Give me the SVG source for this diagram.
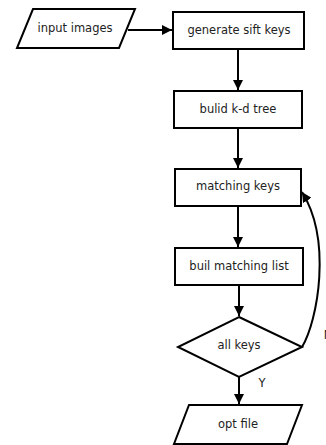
<svg xmlns="http://www.w3.org/2000/svg" width="326" height="445" viewBox="0 0 326 445">
<defs>
<style>
.s{fill:#fff;stroke:#000;stroke-width:2}
.t{font-family:"DejaVu Sans",sans-serif;font-size:11.5px;fill:#222;text-anchor:middle;dominant-baseline:central}
.c{fill:none;stroke:#000;stroke-width:2}
</style>
<marker id="a" viewBox="0 0 10 10" refX="10" refY="5" markerWidth="5" markerHeight="5" orient="auto" markerUnits="strokeWidth">
<path d="M0,0 L10,5 L0,10 z" fill="#000"/>
</marker>
</defs>
<rect width="326" height="445" fill="#fff"/>
<g id="connectors">
<line class="c" x1="128" y1="30" x2="172" y2="30" marker-end="url(#a)"/>
<line class="c" x1="238" y1="49" x2="238" y2="90" marker-end="url(#a)"/>
<line class="c" x1="238" y1="128" x2="238" y2="168" marker-end="url(#a)"/>
<line class="c" x1="238" y1="206" x2="238" y2="247" marker-end="url(#a)"/>
<line class="c" x1="239" y1="285" x2="239" y2="316" marker-end="url(#a)"/>
<line class="c" x1="239" y1="377" x2="239" y2="404" marker-end="url(#a)"/>
<path class="c" d="M302,347 C318,320 332,240 302,192" marker-end="url(#a)"/>
<text class="t" x="262" y="383">Y</text>
<text class="t" x="328" y="335">N</text>
</g>
<g id="input">
<polygon class="s" points="33,9 135,9 119,48 17,48"/>
<text class="t" x="75" y="28">input images</text>
</g>
<g id="sift">
<rect class="s" x="173" y="12" width="131" height="37"/>
<text class="t" x="239" y="30">generate sift keys</text>
</g>
<g id="kdtree">
<rect class="s" x="174" y="91" width="128" height="37"/>
<text class="t" x="238" y="109">bulid k-d tree</text>
</g>
<g id="matching">
<rect class="s" x="175" y="169" width="126" height="37"/>
<text class="t" x="238" y="186">matching keys</text>
</g>
<g id="list">
<rect class="s" x="175" y="248" width="128" height="37"/>
<text class="t" x="239" y="266">buil matching list</text>
</g>
<g id="allkeys">
<polygon class="s" points="239,317 302,347 239,377 178,347"/>
<text class="t" x="239" y="345">all keys</text>
</g>
<g id="opt">
<polygon class="s" points="189,405 302,405 287,444 174,444"/>
<text class="t" x="238" y="424">opt file</text>
</g>
</svg>
